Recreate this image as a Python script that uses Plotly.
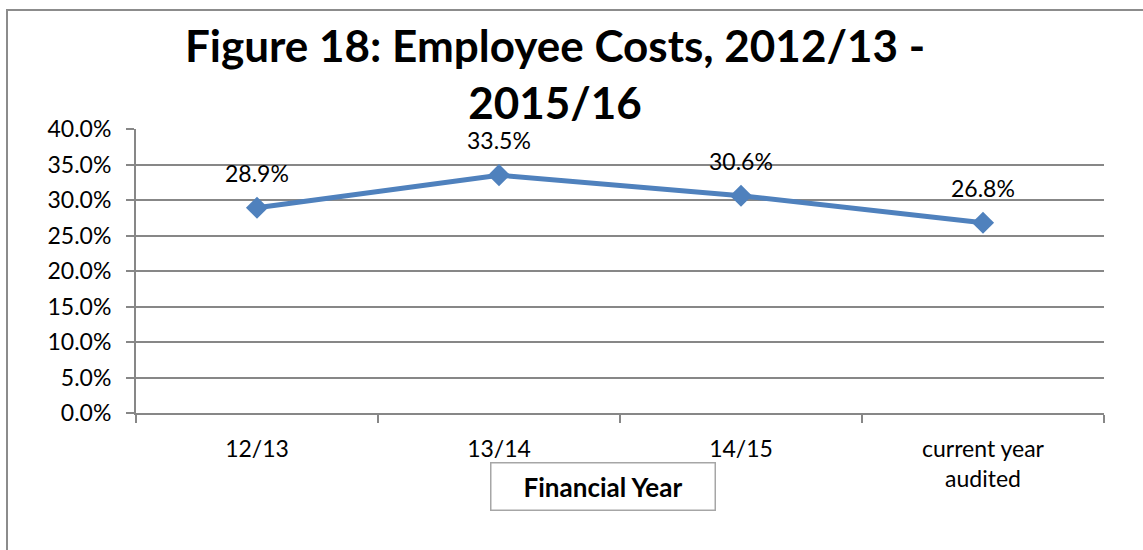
import plotly.graph_objects as go

categories = ["12/13", "13/14", "14/15", "current year<br>audited"]
values = [28.9, 33.5, 30.6, 26.8]
label_texts = ["28.9%", "33.5%", "30.6%", "26.8%"]
title_text = "Figure 18: Employee Costs, 2012/13 -<br>2015/16"
x_title = "Financial Year"

W, H = 1143, 550
L, R, T, B = 136, 39, 129, 137
pw, ph = W - L - R, H - T - B

def px_x(x):
    return (x - L) / pw

def px_y(y):
    return (H - B - y) / ph

FONT = "Lato"
GRID = "#878787"
BLUE = "#4F81BD"

fig = go.Figure()
fig.add_trace(go.Scatter(
    x=categories, y=values, mode="lines+markers",
    line=dict(color=BLUE, width=5),
    marker=dict(symbol="diamond", size=17, color=BLUE),
    hoverinfo="skip", showlegend=False,
))

annotations = []
for c, v, t in zip(categories, values, label_texts):
    annotations.append(dict(x=c, y=v, xref="x", yref="y", text=t, showarrow=False,
                            yshift=35, font=dict(family=FONT, size=23, color="black")))

annotations.append(dict(
    x=px_x(603), y=px_y(487), xref="paper", yref="paper", text="<b>%s</b>" % x_title,
    showarrow=False, width=221, height=44, bordercolor="#A6A6A6", borderwidth=1.5,
    bgcolor="white", font=dict(family=FONT, size=26, color="black"),
    xanchor="center", yanchor="middle",
))

annotations.append(dict(
    x=px_x(555), y=px_y(73), xref="paper", yref="paper", text="<b>%s</b>" % title_text,
    showarrow=False, xanchor="center", yanchor="middle",
    font=dict(family=FONT, size=44, color="black"),
))

fig.update_layout(
    width=W, height=H,
    margin=dict(l=L, r=R, t=T, b=B, pad=0),
    paper_bgcolor="white", plot_bgcolor="white",
    annotations=annotations,
    shapes=[dict(type="rect", xref="paper", yref="paper",
                 x0=px_x(7), x1=px_x(1160), y0=px_y(570), y1=px_y(10),
                 line=dict(color="#8C8C8C", width=2), layer="below")],
)

fig.update_xaxes(
    type="category", showgrid=False, showline=True, linecolor=GRID, linewidth=2,
    ticks="outside", tickson="boundaries", ticklen=8, tickcolor=GRID, tickwidth=2,
    tickfont=dict(family=FONT, size=23, color="black"), ticklabelstandoff=14,
    range=[-0.5, 3.5], zeroline=False,
)
fig.update_yaxes(
    range=[0, 40], dtick=5, tick0=0, tickformat=".1f", ticksuffix="%",
    showgrid=True, gridcolor=GRID, gridwidth=2, showline=True, linecolor=GRID, linewidth=2,
    ticks="outside", ticklen=8, tickcolor=GRID, tickwidth=2, zeroline=False,
    tickfont=dict(family=FONT, size=23, color="black"), ticklabelstandoff=10,
)

fig.write_html("out.html", config={"displayModeBar": False},
               post_script="document.body.style.margin='0';")
